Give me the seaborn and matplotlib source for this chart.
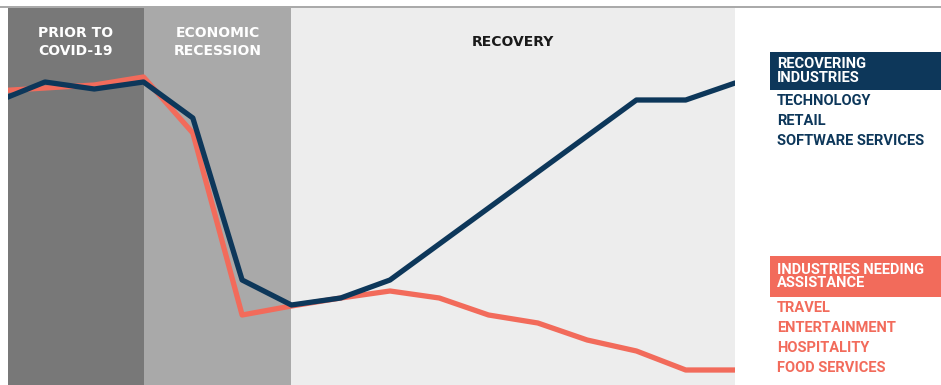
import pandas as pd
import seaborn as sns
import matplotlib.pyplot as plt
from matplotlib.lines import Line2D
from matplotlib.patches import Rectangle

# time steps (one point per period, first one sits partly off the left edge)
steps = list(range(-1, 15))
# index level (arbitrary units, 0 = bottom of the panel)
recovering = [283, 303, 296, 303, 267, 105, 80, 87, 105, 141, 177, 213, 249, 285, 285, 302]
needing_help = [294, 297, 300, 308, 252, 70, 79, 87, 94, 87, 70, 62, 45, 34, 15, 15]

phases = ['PRIOR TO\nCOVID-19', 'ECONOMIC\nRECESSION', 'RECOVERY']
phase_edges = [-0.75, 2, 5, 14]
phase_colors = ['#787878', '#a9a9a9', '#ededed']
phase_text_colors = ['white', 'white', '#1a1a1a']

recovering_list = ['TECHNOLOGY', 'RETAIL', 'SOFTWARE SERVICES']
needing_list = ['TRAVEL', 'ENTERTAINMENT', 'HOSPITALITY', 'FOOD SERVICES']

navy = '#0d375a'
coral = '#f26b5b'

df = pd.DataFrame({
    'step': steps * 2,
    'level': recovering + needing_help,
    'group': ['recovering'] * len(steps) + ['needing'] * len(steps),
})

sns.set_style('white')
fig = plt.figure(figsize=(9.41, 3.85), dpi=100)
W, H = 941, 385
ax = fig.add_axes([8 / W, 0, (735 - 8) / W, (H - 8) / H])

# background bands for the three phases
for i in range(3):
    ax.axvspan(phase_edges[i], phase_edges[i + 1], color=phase_colors[i], lw=0, zorder=0)

sns.lineplot(data=df, x='step', y='level', hue='group',
             hue_order=['needing', 'recovering'],
             palette={'recovering': navy, 'needing': coral},
             linewidth=3.8, legend=False, ax=ax, zorder=3)

ax.set_xlim(phase_edges[0], phase_edges[-1])
ax.set_ylim(0, 377)
ax.set_axis_off()

# phase titles
for i, name in enumerate(phases):
    xc = (phase_edges[i] + phase_edges[i + 1]) / 2
    ax.text(xc, 343, name, ha='center', va='center', color=phase_text_colors[i],
            fontsize=10, fontweight='bold', family='DejaVu Sans', linespacing=1.45)

# top rule
fig.add_artist(Line2D([0, 1], [1 - 7 / H, 1 - 7 / H], color='#9a9a9a', lw=1.2))

# right side legend blocks
def legend_block(top_px, bottom_px, title, items, color):
    fig.add_artist(Rectangle((770 / W, 1 - bottom_px / H), (W - 770) / W,
                             (bottom_px - top_px) / H, color=color, lw=0))
    fig.text(777 / W, 1 - (top_px + bottom_px) / 2 / H, title, color='white',
             fontsize=10.5, fontweight='bold', family='Roboto', va='center',
             linespacing=0.95)
    for j, item in enumerate(items):
        fig.text(777 / W, 1 - (bottom_px + 11 + 20 * j) / H, item, color=color,
                 fontsize=10.5, fontweight='bold', family='Roboto', va='center')

legend_block(52, 90, 'RECOVERING\nINDUSTRIES', recovering_list, navy)
legend_block(256, 297, 'INDUSTRIES NEEDING\nASSISTANCE', needing_list, coral)

fig.savefig('out.png', dpi=100)
